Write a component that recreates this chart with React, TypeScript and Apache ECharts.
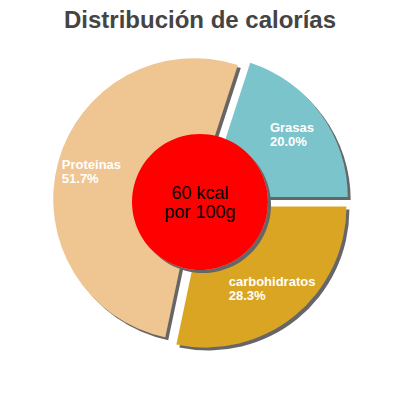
import React, { useEffect, useRef } from 'react';
import * as echarts from 'echarts';

// chart data
const categories = ['Grasas', 'carbohidratos', 'Proteinas'];
const percentages = [20.0, 28.3, 51.7];
const sliceColors = ['#7BC4CC', '#DAA520', '#EFC592'];
const energyLines = ['60 kcal', 'por 100g'];
const titleText = 'Distribución de calorías';

const FONT = '"Liberation Sans", Arial, sans-serif';
const LABEL_FONT = `bold 13px ${FONT}`;
const CENTER = [201, 201];
const RADIUS = 141;

// width of a text, so two-line labels can be left-aligned inside a centred block
const measure = (text: string): number => {
  const ctx = document.createElement('canvas').getContext('2d');
  if (!ctx) return text.length * 7;
  ctx.font = LABEL_FONT;
  return Math.ceil(ctx.measureText(text).width);
};

const App: React.FC = () => {
  const chartRef = useRef<HTMLDivElement>(null);

  useEffect(() => {
    if (!chartRef.current) return;
    const chart = echarts.init(chartRef.current, undefined, { renderer: 'svg' });

    const pieData = categories.map((name, i) => ({
      name,
      value: percentages[i],
      selected: true,
      itemStyle: { color: sliceColors[i] },
    }));

    const labelData = categories.map((name, i) => {
      const pct = `${percentages[i].toFixed(1)}%`;
      return {
        name,
        value: percentages[i],
        selected: true,
        itemStyle: { color: 'rgba(0,0,0,0)' },
        label: {
          rich: {
            t: { width: Math.max(measure(name), measure(pct)), align: 'left', lineHeight: 14 },
          },
        },
      };
    });

    const shadow = {
      shadowColor: '#666666',
      shadowBlur: 0,
      shadowOffsetX: 3,
      shadowOffsetY: 3,
    };

    chart.setOption({
      animation: false,
      title: {
        text: titleText,
        left: 'center',
        top: 2,
        textStyle: { fontFamily: FONT, fontSize: 24, fontWeight: 'bold', color: '#444444' },
      },
      series: [
        // visible slices
        {
          type: 'pie',
          z: 2,
          center: CENTER,
          radius: [0, RADIUS],
          startAngle: 72,
          clockwise: true,
          selectedMode: 'multiple',
          selectedOffset: 7,
          silent: true,
          label: { show: false },
          labelLine: { show: false },
          itemStyle: shadow,
          data: pieData,
        },
        // red centre disc
        {
          type: 'pie',
          z: 3,
          center: [200, 202],
          radius: [0, 68],
          silent: true,
          itemStyle: { color: '#FF0000', ...shadow },
          label: {
            show: true,
            position: 'center',
            formatter: energyLines.join('\n'),
            fontFamily: FONT,
            fontSize: 18,
            lineHeight: 19,
            color: '#000000',
          },
          labelLine: { show: false },
          data: [{ name: 'kcal', value: 1 }],
        },
        // labels only (transparent ring so labels sit further out)
        {
          type: 'pie',
          z: 4,
          center: CENTER,
          radius: [65, RADIUS],
          startAngle: 72,
          clockwise: true,
          selectedMode: 'multiple',
          selectedOffset: 7,
          silent: true,
          itemStyle: { color: 'rgba(0,0,0,0)' },
          label: {
            show: true,
            position: 'inside',
            formatter: (p: any) => `{t|${p.name}}\n{t|${p.value.toFixed(1)}%}`,
            fontFamily: FONT,
            fontSize: 13,
            fontWeight: 'bold',
            lineHeight: 14,
            color: '#FFFFFF',
          },
          labelLine: { show: false },
          data: labelData,
        },
      ],
    });

    return () => {
      chart.dispose();
    };
  }, []);

  return (
    <div
      ref={chartRef}
      style={{ position: 'fixed', left: 0, top: 0, width: 400, height: 400, background: '#fff' }}
    />
  );
};

export default App;
